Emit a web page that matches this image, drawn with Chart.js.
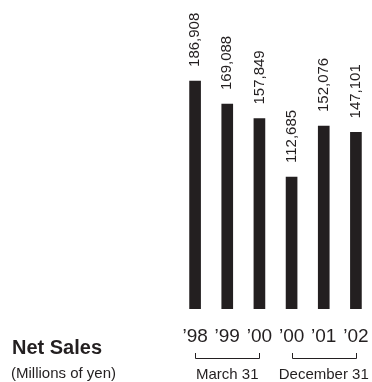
<!DOCTYPE html>
<html>
<head>
<meta charset="utf-8">
<script src="https://cdn.jsdelivr.net/npm/chart.js@4"></script>
<style>
  body { margin: 0; background: #fff; }
  #wrap { width: 372px; height: 382px; position: relative; }
</style>
</head>
<body>
<div id="wrap"><canvas id="myChart"></canvas></div>
<script>
const years = ['\u201998', '\u201999', '\u201900', '\u201900', '\u201901', '\u201902']
const netSales = [186908, 169088, 157849, 112685, 152076, 147101]
const groups = ['March 31', 'December 31']
const groupRanges = [[0, 2], [3, 5]]
const title = 'Net Sales'
const unit = '(Millions of yen)'

const ink = '#231f20'
const fontFam = '"Liberation Sans", Arial, Helvetica, sans-serif'

// labels, brackets and headings
const extras = {
    id: 'extras',
    afterDatasetsDraw(chart) {
        const ctx = chart.ctx
        const x = chart.scales.x
        const meta = chart.getDatasetMeta(0)

        ctx.save()
        ctx.fillStyle = ink
        ctx.font = '15px ' + fontFam
        meta.data.forEach((bar, i) => {
            ctx.save()
            ctx.translate(bar.x, bar.y - 14)
            ctx.rotate(-Math.PI / 2)
            ctx.textAlign = 'left'
            ctx.textBaseline = 'middle'
            ctx.fillText(netSales[i].toLocaleString('en-US'), 0, 0)
            ctx.restore()
        })

        // brackets under the years
        ctx.strokeStyle = ink
        ctx.lineWidth = 1
        groupRanges.forEach((r, g) => {
            const x1 = Math.round(x.getPixelForValue(r[0])) + 0.5
            const x2 = Math.round(x.getPixelForValue(r[1])) + 0.5
            ctx.beginPath()
            ctx.moveTo(x1, 353)
            ctx.lineTo(x1, 358.5)
            ctx.lineTo(x2, 358.5)
            ctx.lineTo(x2, 353)
            ctx.stroke()

            ctx.textAlign = 'center'
            ctx.textBaseline = 'alphabetic'
            ctx.font = '15px ' + fontFam
            ctx.fillText(groups[g], x.getPixelForValue((r[0] + r[1]) / 2), 379)
        })

        ctx.textAlign = 'left'
        ctx.font = 'bold 20px ' + fontFam
        ctx.fillText(title, 12, 354)
        ctx.font = '15px ' + fontFam
        ctx.fillText(unit, 11, 378)
        ctx.restore()
    }
}

const ctx = document.getElementById('myChart')

const dataset = {
    labels: years,
    datasets: [{
        data: netSales,
        backgroundColor: ink,
        barThickness: 11
    }]
}

const config = {
    type: 'bar',
    data: dataset,
    options: {
        responsive: true,
        maintainAspectRatio: false,
        animation: false,
        layout: { padding: { left: 179, right: 0, top: 0, bottom: 0 } },
        plugins: { legend: { display: false }, tooltip: { enabled: false } },
        scales: {
            x: {
                grid: { display: false, drawTicks: false },
                border: { display: false },
                ticks: {
                    color: ink,
                    font: { family: fontFam, size: 19 },
                    padding: 16,
                    maxRotation: 0,
                    autoSkip: false
                },
                afterFit: (scale) => {
                    scale.height = 73
                    scale.paddingLeft = 0
                    scale.paddingRight = 0
                }
            },
            y: {
                display: false,
                min: 10600,
                max: 249500
            }
        }
    },
    plugins: [extras]
}

const chart = new Chart(ctx, config)
</script>
</body>
</html>
